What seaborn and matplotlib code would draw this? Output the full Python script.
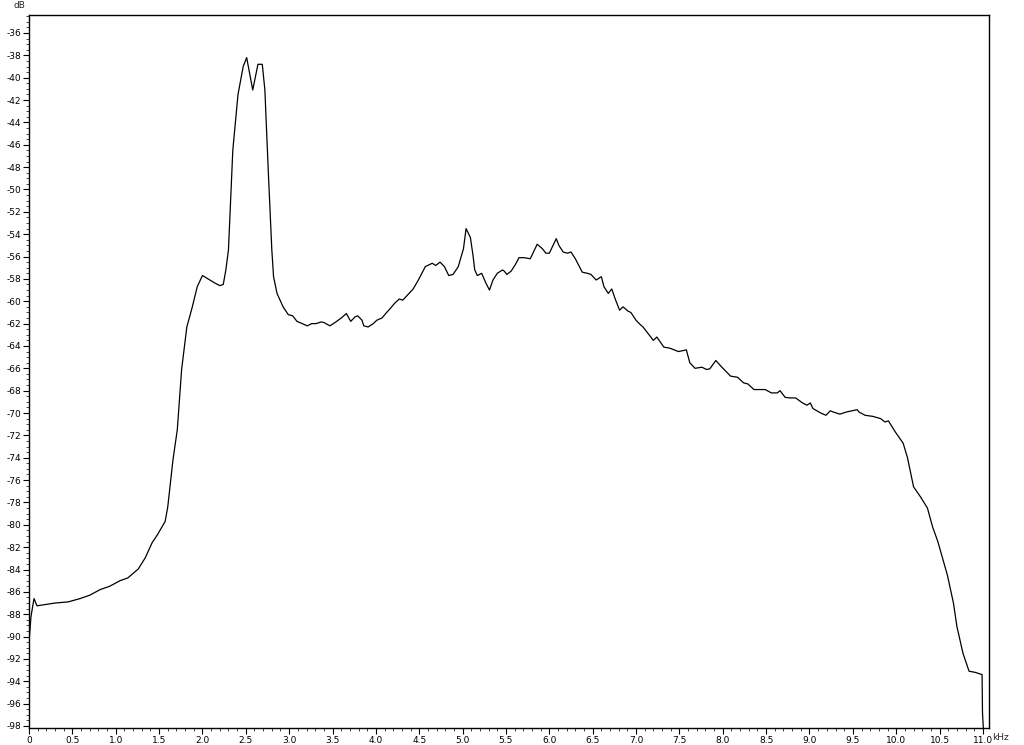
import pandas as pd
import numpy as np
import matplotlib.pyplot as plt
import seaborn as sns
from matplotlib.ticker import MultipleLocator, FixedLocator

# spectrum (kHz, dB)
freq_khz = [0.0, 0.023, 0.058, 0.092, 0.30, 0.45, 0.59, 0.70, 0.82, 0.93,
            1.05, 1.14, 1.26, 1.34, 1.42, 1.48, 1.57, 1.60, 1.66, 1.71,
            1.76, 1.82, 1.88, 1.94, 2.00, 2.15, 2.20, 2.24, 2.27, 2.30,
            2.35, 2.41, 2.47, 2.51, 2.58, 2.64, 2.69, 2.72, 2.76, 2.80,
            2.82, 2.86, 2.93, 2.99, 3.04, 3.09, 3.15, 3.21, 3.26, 3.31,
            3.37, 3.40, 3.47, 3.53, 3.60, 3.66, 3.71, 3.76, 3.79, 3.84,
            3.86, 3.91, 3.97, 4.01, 4.07, 4.13, 4.16, 4.22, 4.27, 4.31,
            4.37, 4.43, 4.49, 4.57, 4.65, 4.69, 4.74, 4.79, 4.84, 4.89,
            4.95, 5.01, 5.04, 5.09, 5.12, 5.14, 5.17, 5.22, 5.27, 5.31,
            5.35, 5.40, 5.46, 5.48, 5.51, 5.56, 5.61, 5.65, 5.71, 5.78,
            5.86, 5.92, 5.96, 6.00, 6.08, 6.11, 6.16, 6.21, 6.25, 6.30,
            6.38, 6.44, 6.48, 6.54, 6.60, 6.63, 6.68, 6.72, 6.76, 6.81,
            6.85, 6.91, 6.94, 7.00, 7.05, 7.08, 7.13, 7.20, 7.24, 7.32,
            7.39, 7.49, 7.58, 7.62, 7.68, 7.76, 7.81, 7.85, 7.92, 7.99,
            8.09, 8.17, 8.24, 8.29, 8.36, 8.49, 8.56, 8.63, 8.66, 8.72,
            8.78, 8.84, 8.92, 8.97, 9.01, 9.04, 9.13, 9.19, 9.24, 9.27,
            9.35, 9.43, 9.55, 9.57, 9.64, 9.73, 9.82, 9.87, 9.91, 9.99,
            10.08, 10.13, 10.20, 10.28, 10.36, 10.42, 10.48, 10.59, 10.66, 10.70,
            10.77, 10.84, 10.91, 10.99, 10.995, 11.01]
level_db = [-90.5, -88.2, -86.6, -87.25, -87.0, -86.9, -86.6, -86.3, -85.8, -85.5,
            -85.0, -84.75, -83.95, -82.96, -81.6, -80.9, -79.7, -78.4, -74.2, -71.5,
            -66.1, -62.3, -60.6, -58.7, -57.7, -58.4, -58.6, -58.5, -57.2, -55.4,
            -46.5, -41.5, -39.0, -38.2, -41.1, -38.8, -38.8, -41.1, -48.5, -55.4,
            -57.8, -59.3, -60.5, -61.2, -61.3, -61.8, -62.0, -62.2, -62.0, -62.0,
            -61.85, -61.9, -62.2, -61.9, -61.5, -61.1, -61.8, -61.4, -61.3, -61.7,
            -62.2, -62.3, -62.0, -61.7, -61.5, -60.95, -60.7, -60.15, -59.8, -59.9,
            -59.4, -58.9, -58.1, -56.9, -56.6, -56.8, -56.5, -56.9, -57.7, -57.6,
            -56.9, -55.3, -53.5, -54.3, -55.9, -57.2, -57.7, -57.5, -58.4, -59.0,
            -58.1, -57.5, -57.2, -57.3, -57.6, -57.3, -56.7, -56.1, -56.1, -56.2,
            -54.9, -55.3, -55.7, -55.7, -54.4, -55.0, -55.6, -55.7, -55.6, -56.2,
            -57.4, -57.5, -57.6, -58.1, -57.8, -58.7, -59.3, -58.9, -59.8, -60.8,
            -60.5, -60.9, -61.0, -61.7, -62.1, -62.3, -62.8, -63.5, -63.2, -64.1,
            -64.2, -64.5, -64.35, -65.5, -66.0, -65.9, -66.1, -66.05, -65.3, -65.9,
            -66.7, -66.8, -67.3, -67.4, -67.9, -67.9, -68.2, -68.2, -68.0, -68.6,
            -68.65, -68.65, -69.1, -69.3, -69.1, -69.6, -70.0, -70.2, -69.8, -69.9,
            -70.1, -69.9, -69.7, -69.9, -70.2, -70.3, -70.5, -70.8, -70.7, -71.7,
            -72.7, -74.0, -76.6, -77.5, -78.5, -80.2, -81.5, -84.5, -87.0, -89.1,
            -91.5, -93.1, -93.2, -93.4, -96.8, -99.0]

x_ticks = [0, 0.5, 1.0, 1.5, 2.0, 2.5, 3.0, 3.5, 4.0, 4.5, 5.0, 5.5,
           6.0, 6.5, 7.0, 7.5, 8.0, 8.5, 9.0, 9.5, 10.0, 10.5, 11.0]
x_labels = ['0', '0.5', '1.0', '1.5', '2.0', '2.5', '3.0', '3.5', '4.0', '4.5', '5.0', '5.5',
            '6.0', '6.5', '7.0', '7.5', '8.0', '8.5', '9.0', '9.5', '10.0', '10.5', '11.0']
y_ticks = list(range(-36, -99, -2))

df = pd.DataFrame({'kHz': freq_khz, 'dB': level_db})

sns.set_style('white')
plt.rcParams['font.family'] = ['DejaVu Sans']

fig = plt.figure(figsize=(10.24, 7.45), dpi=100)
ax = fig.add_axes([29 / 1024, 1 - 728 / 745, 960 / 1024, 713 / 745])

sns.lineplot(ax=ax, data=df, x='kHz', y='dB', color='black', linewidth=0.9, sort=False)

ax.set_xlim(0, 11.07)
ax.set_ylim(-98.18, -34.39)
ax.set_xlabel('')
ax.set_ylabel('')

ax.xaxis.set_major_locator(FixedLocator(x_ticks))
ax.set_xticklabels(x_labels)
ax.xaxis.set_minor_locator(MultipleLocator(0.1))
ax.yaxis.set_major_locator(FixedLocator(y_ticks))
ax.set_yticklabels([str(v) for v in y_ticks])
ax.yaxis.set_minor_locator(MultipleLocator(0.5))

ax.tick_params(which='major', direction='out', length=4, width=0.8, labelsize=6.5,
               pad=1.5, colors='black', bottom=True, left=True)
ax.tick_params(which='minor', direction='out', length=2, width=0.6,
               bottom=True, left=True)

for s in ax.spines.values():
    s.set_color('black')
    s.set_linewidth(1.0)
    s.set_visible(True)

fig.text(14 / 1024, 1 - 6 / 745, 'dB', fontsize=6.5, ha='left', va='center')
fig.text(992 / 1024, 1 - 737 / 745, 'kHz', fontsize=6.5, ha='left', va='center')

fig.savefig('out.png', dpi=100)
